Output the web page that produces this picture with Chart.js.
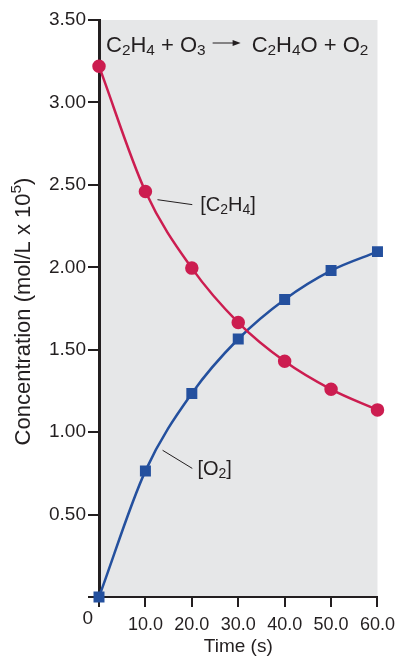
<!DOCTYPE html>
<html>
<head>
<meta charset="utf-8">
<script src="https://cdn.jsdelivr.net/npm/chart.js@4"></script>
<style>
  html, body { margin: 0; padding: 0; background: #fff; }
  #wrap { width: 402px; height: 658px; }
</style>
</head>
<body>
<div id="wrap"><canvas id="chart" width="402" height="658"></canvas></div>
<script>
// time points (s)
var times = [0, 10, 20, 30, 40, 50, 60];
// concentrations (mol/L x 10^5)
var c2h4 = [3.22, 2.46, 1.995, 1.665, 1.43, 1.26, 1.135];
var o2 = [0, 0.765, 1.235, 1.565, 1.805, 1.98, 2.095];
var yTicks = [0, 0.5, 1, 1.5, 2, 2.5, 3, 3.5];

var RED = '#cc1d50';
var BLUE = '#24509e';
var INK = '#231f20';
var FONT = '"Liberation Sans", Arial, sans-serif';

function toPoints(values) {
    return times.map(function (t, i) { return { x: t, y: values[i] }; });
}

// text with sub/superscripts: segments of [text, shift] (0 normal, 1 sub, -1 sup)
function drawRich(ctx, x, y, parts, size) {
    parts.forEach(function (p) {
        var s = p[1] ? size * 0.7 : size;
        var dy = p[1] === 1 ? size * 0.13 : (p[1] === -1 ? -size * 0.4 : 0);
        ctx.font = s + 'px ' + FONT;
        ctx.fillText(p[0], x, y + dy);
        x += ctx.measureText(p[0]).width;
    });
    return x;
}

function richWidth(ctx, parts, size) {
    var w = 0;
    parts.forEach(function (p) {
        ctx.font = (p[1] ? size * 0.7 : size) + 'px ' + FONT;
        w += ctx.measureText(p[0]).width;
    });
    return w;
}

var annotations = {
    id: 'annotations',
    beforeDraw: function (chart) {
        var a = chart.chartArea, ctx = chart.ctx;
        ctx.save();
        ctx.fillStyle = '#e6e7e8';
        ctx.fillRect(a.left, a.top, a.right - a.left, a.bottom - a.top);
        ctx.restore();
    },
    afterDraw: function (chart) {
        var ctx = chart.ctx, xs = chart.scales.x, ys = chart.scales.y;
        ctx.save();
        ctx.fillStyle = INK;
        ctx.strokeStyle = INK;
        ctx.textBaseline = 'alphabetic';

        // reaction equation
        var base = ys.top + 32;
        var x = drawRich(ctx, xs.left + 7, base, [
            ['C', 0], ['2', 1], ['H', 0], ['4', 1], [' + O', 0], ['3', 1]
        ], 22);
        var ay = base - 9;
        ctx.lineWidth = 1;
        ctx.beginPath();
        ctx.moveTo(x + 7, ay);
        ctx.lineTo(x + 30, ay);
        ctx.stroke();
        ctx.beginPath();
        ctx.moveTo(x + 35, ay);
        ctx.lineTo(x + 27, ay - 3);
        ctx.lineTo(x + 27, ay + 3);
        ctx.closePath();
        ctx.fill();
        drawRich(ctx, x + 46, base, [
            ['C', 0], ['2', 1], ['H', 0], ['4', 1], ['O + O', 0], ['2', 1]
        ], 22);

        // series labels with leader lines
        ctx.lineWidth = 1;
        ctx.beginPath();
        ctx.moveTo(xs.getPixelForValue(12.6), ys.getPixelForValue(2.41));
        ctx.lineTo(xs.getPixelForValue(20.1), ys.getPixelForValue(2.38));
        ctx.moveTo(xs.getPixelForValue(13.7), ys.getPixelForValue(0.89));
        ctx.lineTo(xs.getPixelForValue(20.1), ys.getPixelForValue(0.78));
        ctx.stroke();
        drawRich(ctx, xs.getPixelForValue(21.8), ys.getPixelForValue(2.34), [
            ['[C', 0], ['2', 1], ['H', 0], ['4', 1], [']', 0]
        ], 20);
        drawRich(ctx, xs.getPixelForValue(21.2), ys.getPixelForValue(0.74), [
            ['[O', 0], ['2', 1], [']', 0]
        ], 20);

        // y axis title with superscript
        var yTitle = [['Concentration (mol/L x 10', 0], ['5', -1], [')', 0]];
        var w = richWidth(ctx, yTitle, 22);
        ctx.save();
        ctx.translate(30, (ys.top + ys.bottom) / 2 + 3);
        ctx.rotate(-Math.PI / 2);
        drawRich(ctx, -w / 2, 0, yTitle, 22);
        ctx.restore();

        // origin label
        ctx.font = '19px ' + FONT;
        ctx.textAlign = 'right';
        ctx.fillText('0', xs.left - 6, ys.bottom + 27);
        ctx.restore();
    }
};

new Chart(document.getElementById('chart'), {
    type: 'line',
    data: {
        datasets: [{
            label: '[C2H4]',
            data: toPoints(c2h4),
            borderColor: RED,
            backgroundColor: RED,
            borderWidth: 2.5,
            pointStyle: 'circle',
            pointRadius: 5.5,
            cubicInterpolationMode: 'monotone',
            clip: false
        }, {
            label: '[O2]',
            data: toPoints(o2),
            borderColor: BLUE,
            backgroundColor: BLUE,
            borderWidth: 2.5,
            pointStyle: 'rect',
            pointRadius: 6,
            cubicInterpolationMode: 'monotone',
            clip: false
        }]
    },
    options: {
        responsive: false,
        animation: false,
        layout: { padding: { left: 0, right: 24, top: 20, bottom: 0 } },
        plugins: { legend: { display: false }, tooltip: { enabled: false } },
        scales: {
            x: {
                type: 'linear',
                min: 0,
                max: 60,
                afterBuildTicks: function (scale) {
                    scale.ticks = times.map(function (t) { return { value: t }; });
                },
                afterFit: function (scale) { scale.height = 61; },
                ticks: {
                    color: INK,
                    font: { family: FONT, size: 18 },
                    padding: 7,
                    maxRotation: 0,
                    callback: function (v) { return v === 0 ? '' : v.toFixed(1); }
                },
                grid: { drawOnChartArea: false, drawTicks: true, tickLength: 10, color: INK, lineWidth: 2 },
                border: { display: true, color: INK, width: 2 },
                title: {
                    display: true,
                    text: 'Time (s)',
                    color: INK,
                    font: { family: FONT, size: 19 },
                    padding: { top: 0, bottom: 0 }
                }
            },
            y: {
                type: 'linear',
                min: 0,
                max: 3.5,
                afterBuildTicks: function (scale) {
                    scale.ticks = yTicks.map(function (t) { return { value: t }; });
                },
                afterFit: function (scale) { scale.width = 99; },
                ticks: {
                    color: INK,
                    font: { family: FONT, size: 19 },
                    padding: 2,
                    callback: function (v) { return v === 0 ? '' : v.toFixed(2); }
                },
                grid: { drawOnChartArea: false, drawTicks: true, tickLength: 11, color: INK, lineWidth: 2 },
                border: { display: true, color: INK, width: 3 },
                title: { display: false }
            }
        }
    },
    plugins: [annotations]
});
</script>
</body>
</html>
